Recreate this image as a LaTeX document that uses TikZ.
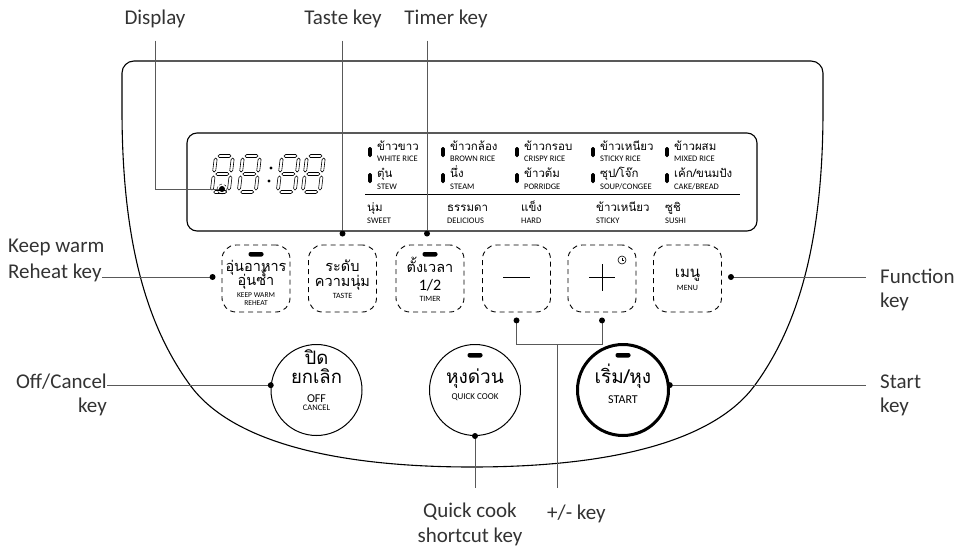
\documentclass[tikz,border=0pt]{standalone}
\usepackage{fontspec}
\setmainfont{Carlito}
\newfontfamily\thaifont[Script=Thai]{Loma}
\usetikzlibrary{positioning}
\newcommand\hseg[3]{\filldraw[fill=white,line width=0.6] (#1,#3) -- (#1+1.5,#3-1.5) -- (#2-1.5,#3-1.5) -- (#2,#3) -- (#2-1.5,#3+1.5) -- (#1+1.5,#3+1.5) -- cycle;}
\newcommand\vseg[3]{\filldraw[fill=white,line width=0.6] (#1,#2) -- (#1+1.5,#2+1.5) -- (#1+1.5,#3-1.5) -- (#1,#3) -- (#1-1.5,#3-1.5) -- (#1-1.5,#2+1.5) -- cycle;}
\newcommand\segdigit[2]{%
\begin{scope}[shift={(#1,#2)}, xslant=0.12]
\hseg{2}{15}{0} \hseg{2}{15}{18} \hseg{2}{15}{36}
\vseg{0}{2}{16} \vseg{17}{2}{16} \vseg{0}{20}{34} \vseg{17}{20}{34}
\end{scope}}
\tikzset{
lbl/.style={text=black!80, font=\fontsize{21}{23}\selectfont, inner sep=0},
lead/.style={draw=black!65, line width=0.8},
keybox/.style={draw, dash pattern=on 5 off 4, rounded corners=14, minimum width=68, minimum height=67, line width=0.9},
btn/.style={draw, circle, minimum size=91, line width=1, inner sep=0},
th/.style={font=\thaifont\fontsize{#1}{#1}\selectfont, inner sep=0, anchor=base},
en/.style={font=\fontsize{#1}{#1}\selectfont, inner sep=0, anchor=base}
}
\begin{document}
\begin{tikzpicture}[x=1pt, y=-1pt]
\useasboundingbox (0,0) rectangle (961,551);
\draw[line width=1.1] (122,110) -- (122,73) to[out=90,in=180] (134,61) -- (811,61) to[out=0,in=90] (823,73) -- (823,110) .. controls (823,250) and (795,330) .. (755,385) .. controls (715,440) and (615,467) .. (472,467) .. controls (330,467) and (230,440) .. (190,385) .. controls (150,330) and (122,250) .. (122,110) -- cycle;
\node[draw, rounded corners=10, minimum width=570, minimum height=98, line width=1.1] (panel) at (472,182) {};
\segdigit{216}{156}
\segdigit{243}{156}
\segdigit{282}{156}
\segdigit{307}{156}
\fill (271,168) circle (1.6);
\fill (269,181) circle (1.6);
\foreach \x/\thw/\enw [count=\i] in {370/ข้าวขาว/WHITE RICE, 443/ข้าวกล้อง/BROWN RICE, 517/ข้าวกรอบ/CRISPY RICE, 593/ข้าวเหนียว/STICKY RICE, 667/ข้าวผสม/MIXED RICE} {
\fill[rounded corners=1.5] (\x-1.8,147) rectangle (\x+1.8,157);
\node[th=11.5, anchor=base west] (thA\i) at (\x+7,150) {\thw};
\node[en=8.5, anchor=base west] (enA\i) at (\x+7,161) {\enw};
}
\foreach \x/\thw/\enw [count=\i] in {370/ตุ๋น/STEW, 443/นึ่ง/STEAM, 517/ข้าวต้ม/PORRIDGE, 593/{ซุป/โจ๊ก}/{SOUP/CONGEE}, 667/{เค้ก/ขนมปัง}/{CAKE/BREAD}} {
\fill[rounded corners=1.5] (\x-1.8,173) rectangle (\x+1.8,183);
\node[th=11.5, anchor=base west] (thB\i) at (\x+7,177) {\thw};
\node[en=8.5, anchor=base west] (enB\i) at (\x+7,189) {\enw};
}
\draw[line width=0.9] (365,194) -- (740,194);
\foreach \x/\thw/\enw [count=\i] in {367/นุ่ม/SWEET, 447/ธรรมดา/DELICIOUS, 521/แข็ง/HARD, 596/ข้าวเหนียว/STICKY, 665/ซูชิ/SUSHI} {
\node[th=11.5, anchor=base west] (thC\i) at (\x,211) {\thw};
\node[en=8.5, anchor=base west] (enC\i) at (\x,223) {\enw};
}
\foreach \n/\x in {kw/256, taste/342.5, timer/430, minus/516.5, plus/602, menu/687.5}
\node[keybox] (\n) at (\x,278.5) {};
\fill[rounded corners=2] (248.5,252) rectangle (263.5,256.5);
\node[th=14.5] (kwA) at (256,271) {อุ่นอาหาร};
\node[th=14.5] (kwB) at (256,285.5) {อุ่นซ้ำ};
\node[en=7.5] (kwC) at (256,297.5) {KEEP WARM};
\node[en=7.5] (kwD) at (256,305) {REHEAT};
\node[th=14.5] (tasteA) at (342.5,271) {ระดับ};
\node[th=14.5] (tasteB) at (342.5,286) {ความนุ่ม};
\node[en=8] (tasteC) at (342.5,298) {TASTE};
\fill[rounded corners=2] (422.5,252) rectangle (437.5,256.5);
\node[th=14.5] (timerA) at (430,272) {ตั้งเวลา};
\node[en=16] (timerB) at (430,290) {1/2};
\node[en=8] (timerC) at (430,301) {TIMER};
\draw[line width=1] (503,277.5) -- (530,277.5);
\draw[line width=1] (589,277.5) -- (615,277.5) (602,264) -- (602,291);
\draw[line width=0.6] (622,260) circle (4);
\draw[line width=0.6] (622,257.5) -- (622,260) -- (624,260);
\node[th=15] (menuA) at (687.5,277) {เมนู};
\node[en=8] (menuB) at (687.5,290) {MENU};
\node[btn] (off) at (316.5,390) {};
\node[btn] (quick) at (475,390) {};
\node[btn, line width=3] (start) at (623,390) {};
\node[th=18.5] (offA) at (316.5,364) {ปิด};
\node[th=18.5] (offB) at (316.5,383) {ยกเลิก};
\node[en=12] (offC) at (316.5,402) {OFF};
\node[en=8.5] (offD) at (316.5,410) {CANCEL};
\fill[rounded corners=2] (467.5,353) rectangle (482.5,357.5);
\node[th=19] (quickA) at (475,383) {หุงด่วน};
\node[en=9] (quickB) at (475,399) {QUICK COOK};
\fill[rounded corners=2] (615.5,353) rectangle (630.5,357.5);
\node[th=19] (startA) at (623,383) {เริ่ม/หุง};
\node[en=12] (startB) at (623,403) {START};
\node[lbl, anchor=base] (lblDisplay) at (155,25) {Display};
\node[lbl, anchor=base] (lblTaste) at (343,25) {Taste key};
\node[lbl, anchor=base] (lblTimer) at (446,25) {Timer key};
\node[lbl, anchor=base west] (lblKeep) at (8,252) {Keep warm};
\node[lbl, anchor=base west] (lblReheat) at (8,278) {Reheat key};
\node[lbl, anchor=base east] (lblOff) at (107,388) {Off/Cancel};
\node[lbl, anchor=base east] (lblOffKey) at (107,412) {key};
\node[lbl, anchor=base west] (lblFunc) at (880,283) {Function};
\node[lbl, anchor=base west] (lblFuncKey) at (880,307) {key};
\node[lbl, anchor=base west] (lblStart) at (880,388) {Start};
\node[lbl, anchor=base west] (lblStartKey) at (880,412) {key};
\node[lbl, anchor=base] (lblQuick) at (470,517) {Quick cook};
\node[lbl, anchor=base] (lblShort) at (470,542) {shortcut key};
\node[lbl, anchor=base west] (lblPM) at (547,519) {+/- key};
\coordinate (dispdot) at (222,189);
\coordinate (tastedot) at ([yshift=11pt]taste.north);
\coordinate (timerdot) at ([xshift=-3pt, yshift=11pt]timer.north);
\coordinate (kwdot) at ([xshift=-9pt, yshift=1.5pt]kw.west);
\coordinate (menudot) at ([xshift=9pt, yshift=1.5pt]menu.east);
\coordinate (minusdot) at ([yshift=-8pt]minus.south);
\coordinate (plusdot) at ([yshift=-8pt]plus.south);
\coordinate (pmjoin) at (557,344);
\draw[lead] ([yshift=-12pt]lblDisplay.south) |- (dispdot);
\draw[lead, shorten <=12] (tastedot |- lblTaste.south) -- (tastedot);
\draw[lead, shorten <=12] (timerdot |- lblTimer.south) -- (timerdot);
\draw[lead] (kwdot) -- (kwdot -| lblReheat.east);
\draw[lead, shorten >=14] (menudot) -- (menudot -| lblFunc.west);
\draw[lead] (off.174) -- (off.174 -| lblOff.east);
\draw[lead, shorten >=14] (start.6) -- (start.6 -| lblStart.west);
\draw[lead, shorten >=14] (quick.south) -- (quick.south |- lblQuick.north);
\draw[lead] (minusdot) |- (plusdot |- pmjoin) -- (plusdot);
\draw[lead, shorten >=16] (pmjoin) -- (pmjoin |- lblPM.north);
\draw[densely dashed, line width=0.4] (dispdot) circle (5);
\foreach \c in {dispdot, tastedot, timerdot, kwdot, menudot, minusdot, plusdot, off.174, start.6, quick.south}
\fill (\c) circle (3);
\end{tikzpicture}
\end{document}
